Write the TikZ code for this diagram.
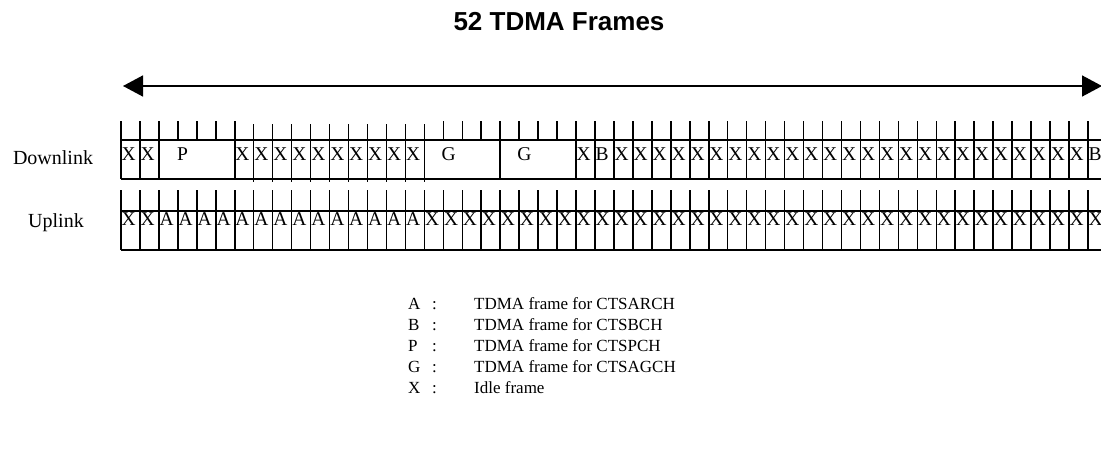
\documentclass[tikz,border=0pt]{standalone}
\usepackage{fontspec}
\setmainfont{Liberation Serif}
\setsansfont{Liberation Sans}
\usetikzlibrary{arrows.meta}

\begin{document}
\begin{tikzpicture}[x=1pt, y=-1pt, every node/.style={inner sep=0pt},
  cell/.style={font=\fontsize{19.5}{19.5}\selectfont, anchor=west},
  lbl/.style={font=\fontsize{20}{20}\selectfont},
  key/.style={font=\fontsize{17}{17}\selectfont, anchor=base west},
  tick/.style={line width=1.5pt},
  rowline/.style={line width=1.7pt}]
  \useasboundingbox (0,0) rectangle (1101,455);
  \def\cw{18.96}
  % Title and span arrow
  \node[font=\sffamily\bfseries\fontsize{26}{26}\selectfont] (title) at (559,22) {52 TDMA Frames};
  \coordinate (spanL) at (123,86);
  \coordinate (spanR) at (1102,86);
  \draw[line width=1.5pt, {Triangle[length=20pt,width=21pt]}-{Triangle[length=20pt,width=21pt]}] (spanL) -- (spanR);
  % Row labels
  \node[lbl] (dl) at (53,158) {Downlink};
  \node[lbl] (ul) at (56,223) {Uplink};
  % Downlink row
  \draw[rowline] (121,140) -- (1107,140);
  \draw[rowline] (121,179) -- (1107,179);
  \foreach \i in {0,...,6}
    \draw[tick] ({121+\i*\cw},121) -- ({121+\i*\cw},140);
  \foreach \i in {17,...,52}
    \draw[tick] ({121+\i*\cw},121) -- ({121+\i*\cw},140);
  \foreach \i in {0,1,2,6,20}
    \draw[tick] ({121+\i*\cw},140) -- ({121+\i*\cw},179);
  \foreach \i in {24,...,52}
    \draw[tick] ({121+\i*\cw},140) -- ({121+\i*\cw},179);
  \foreach \i in {7,...,16}
    \draw[tick] ({121+\i*\cw},124) -- ({121+\i*\cw},182);
  \foreach \i in {0,1,24}
    \node[cell] (dx\i) at ({121.5+\i*\cw},154) {X};
  \foreach \i in {6,...,15}
    \node[cell] (dx\i) at ({121.5+\i*\cw},154) {X};
  \foreach \i in {26,...,50}
    \node[cell] (dx\i) at ({121.5+\i*\cw},154) {X};
  \foreach \i in {25,51}
    \node[cell] (db\i) at ({121.5+\i*\cw},154) {B};
  \node[cell] (dp) at ({121+2*\cw+18},154) {P};
  \foreach \i in {16,20}
    \node[cell] (dg\i) at ({121+\i*\cw+17},154) {G};
  % Uplink row
  \draw[rowline] (121,211) -- (1107,211);
  \draw[rowline] (121,250) -- (1107,250);
  \foreach \i in {0,...,52}
    \draw[tick] ({121+\i*\cw},190) -- ({121+\i*\cw},250);
  \foreach \i in {0,1}
    \node[cell] (ux\i) at ({121.5+\i*\cw},219) {X};
  \foreach \i in {16,...,51}
    \node[cell] (ux\i) at ({121.5+\i*\cw},219) {X};
  \foreach \i in {2,...,15}
    \node[cell] (ua\i) at ({121.5+\i*\cw},219) {A};
  % Legend
  \foreach \k/\t [count=\n from 0] in {A/TDMA frame for CTSARCH, B/TDMA frame for CTSBCH,
      P/TDMA frame for CTSPCH, G/TDMA frame for CTSAGCH, X/Idle frame} {
    \node[key] (key\k) at (408,309+21*\n) {\makebox[24pt][l]{\k}:};
    \node[key] (txt\k) at (474,309+21*\n) {\t};
  }
\end{tikzpicture}
\end{document}
